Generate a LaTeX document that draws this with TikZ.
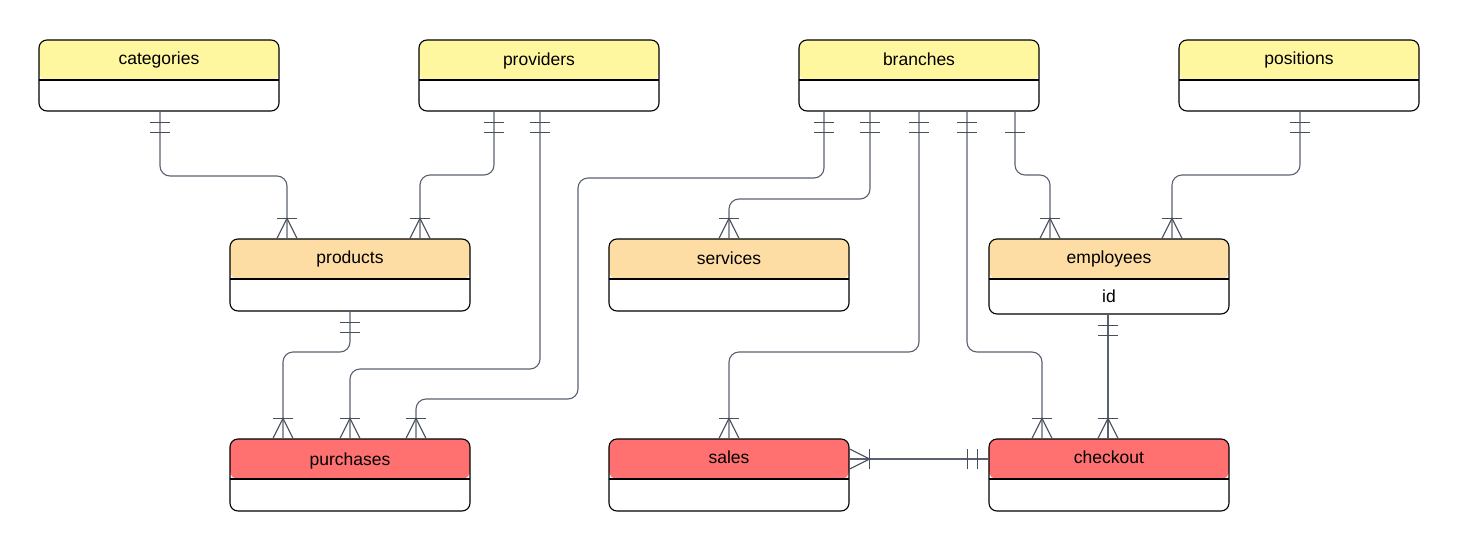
\documentclass[tikz,border=0pt]{standalone}
\usepackage{fontspec}
\setmainfont{Liberation Sans}
\usetikzlibrary{calc}
\definecolor{hdyellow}{HTML}{FFF6A0}
\definecolor{hdorange}{HTML}{FEDDA5}
\definecolor{hdred}{HTML}{FF7070}
\definecolor{relgray}{HTML}{5A6170}
\tikzset{
  entity/.style={draw=black, line width=1.1pt, rounded corners=8pt, fill=white,
    minimum width=240pt, minimum height=#1, inner sep=0pt},
  header/.style={path picture={
    \fill[#1] (path picture bounding box.north west) rectangle ([yshift=-40pt]path picture bounding box.north east);
    \draw[line width=1.1pt] ([yshift=-40pt]path picture bounding box.north west) -- ([yshift=-40pt]path picture bounding box.north east);}},
  etitle/.style={font=\fontsize{17.5}{21}\selectfont, inner sep=0pt, text height=12.5pt, text depth=3.5pt},
  rel/.style={draw=relgray, line width=1.1pt, rounded corners=10pt},
  endmark/.style={draw=relgray!80!black, line width=1.1pt},
  % outward direction of every end mark is local +y
  manyend/.pic={\draw[endmark] (-10,0) -- (0,20) -- (10,0); \draw[endmark] (-10,20) -- (10,20);},
  twobar/.pic={\draw[endmark] (-10,11) -- (10,11); \draw[endmark] (-10,21) -- (10,21);},
  onebar/.pic={\draw[endmark] (-10,21) -- (10,21);}
}
\begin{document}
\begin{tikzpicture}[x=1pt, y=-1pt]
\useasboundingbox (0,0) rectangle (1460,552);

% entities: top row
\node[entity=71pt, header=hdyellow] (cat) at (159,75.5) {};
\node[entity=71pt, header=hdyellow] (prov) at (539,75.5) {};
\node[entity=71pt, header=hdyellow] (br) at (919,75.5) {};
\node[entity=71pt, header=hdyellow] (pos) at (1299,75.5) {};
% middle row
\node[entity=72pt, header=hdorange] (prod) at (350,275) {};
\node[entity=72pt, header=hdorange] (serv) at (729,275) {};
\node[entity=75pt, header=hdorange] (emp) at (1109,276.5) {};
% bottom row
\node[entity=72pt, header=hdred] (pur) at (350,475) {};
\node[entity=72pt, header=hdred] (sal) at (729,475) {};
\node[entity=72pt, header=hdred] (chk) at (1109,475) {};

% titles
\node[etitle] (cat-t) at ([yshift=-20.5pt]cat.north) {categories};
\node[etitle] (prov-t) at ([yshift=-22pt]prov.north) {providers};
\node[etitle] (br-t) at ([yshift=-22pt]br.north) {branches};
\node[etitle] (pos-t) at ([yshift=-20.5pt]pos.north) {positions};
\node[etitle] (prod-t) at ([yshift=-20.5pt]prod.north) {products};
\node[etitle] (serv-t) at ([yshift=-22pt]serv.north) {services};
\node[etitle] (emp-t) at ([yshift=-20.5pt]emp.north) {employees};
\node[etitle] (emp-id) at ([yshift=-60pt]emp.north) {id};
\node[etitle] (pur-t) at ([yshift=-22.5pt]pur.north) {purchases};
\node[etitle] (sal-t) at ([yshift=-20.5pt]sal.north) {sales};
\node[etitle] (chk-t) at ([yshift=-20.5pt]chk.north) {checkout};

% relationships
\draw[rel] ([xshift=1pt]cat.south) |- (287,176) -- ([xshift=-63pt]prod.north);
\draw[rel] ([xshift=-45pt]prov.south) |- (420,175) -- ([xshift=70pt]prod.north);
\draw[rel] ([xshift=1pt]prov.south) |- (350,369) -- (pur.north);
\draw[rel] ([xshift=-95pt]br.south) |- (578,178) -- (578,399) -| ([xshift=66pt]pur.north);
\draw[rel] ([xshift=-49pt]br.south) |- (729,199) -- (serv.north);
\draw[rel] (br.south) |- (729,352) -- (sal.north);
\draw[rel] ([xshift=48pt]br.south) |- (1042,352) -- ([xshift=-67pt]chk.north);
\draw[rel] ([xshift=96pt]br.south) |- (1050,175) -- ([xshift=-59pt]emp.north);
\draw[rel] ([xshift=1pt]pos.south) |- (1172,175) -- ([xshift=63pt]emp.north);
\draw[rel] ([xshift=-1pt]emp.south) -- ([xshift=-1pt]chk.north);
\draw[rel] (prod.south) |- (283,352) -- ([xshift=-67pt]pur.north);
\draw[rel] ([yshift=16pt]sal.east) -- ([yshift=16pt]chk.west);

% "one" ends
\pic at ([xshift=1pt]cat.south) {twobar};
\pic at ([xshift=-45pt]prov.south) {twobar};
\pic at ([xshift=1pt]prov.south) {twobar};
\pic at ([xshift=-95pt]br.south) {twobar};
\pic at ([xshift=-49pt]br.south) {twobar};
\pic at (br.south) {twobar};
\pic at ([xshift=48pt]br.south) {twobar};
\pic at ([xshift=96pt]br.south) {onebar};
\pic at ([xshift=1pt]pos.south) {twobar};
\pic at ([xshift=-1pt]emp.south) {twobar};
\pic at (prod.south) {twobar};
\pic[rotate=-90] at ([yshift=16pt]chk.west) {twobar};

% "many" ends
\pic[rotate=180] at ([xshift=-63pt]prod.north) {manyend};
\pic[rotate=180] at ([xshift=70pt]prod.north) {manyend};
\pic[rotate=180] at (pur.north) {manyend};
\pic[rotate=180] at ([xshift=66pt]pur.north) {manyend};
\pic[rotate=180] at ([xshift=-67pt]pur.north) {manyend};
\pic[rotate=180] at (serv.north) {manyend};
\pic[rotate=180] at (sal.north) {manyend};
\pic[rotate=180] at ([xshift=-67pt]chk.north) {manyend};
\pic[rotate=180] at ([xshift=-1pt]chk.north) {manyend};
\pic[rotate=180] at ([xshift=-59pt]emp.north) {manyend};
\pic[rotate=180] at ([xshift=63pt]emp.north) {manyend};
\pic[rotate=90] at ([yshift=16pt]sal.east) {manyend};
\end{tikzpicture}
\end{document}
